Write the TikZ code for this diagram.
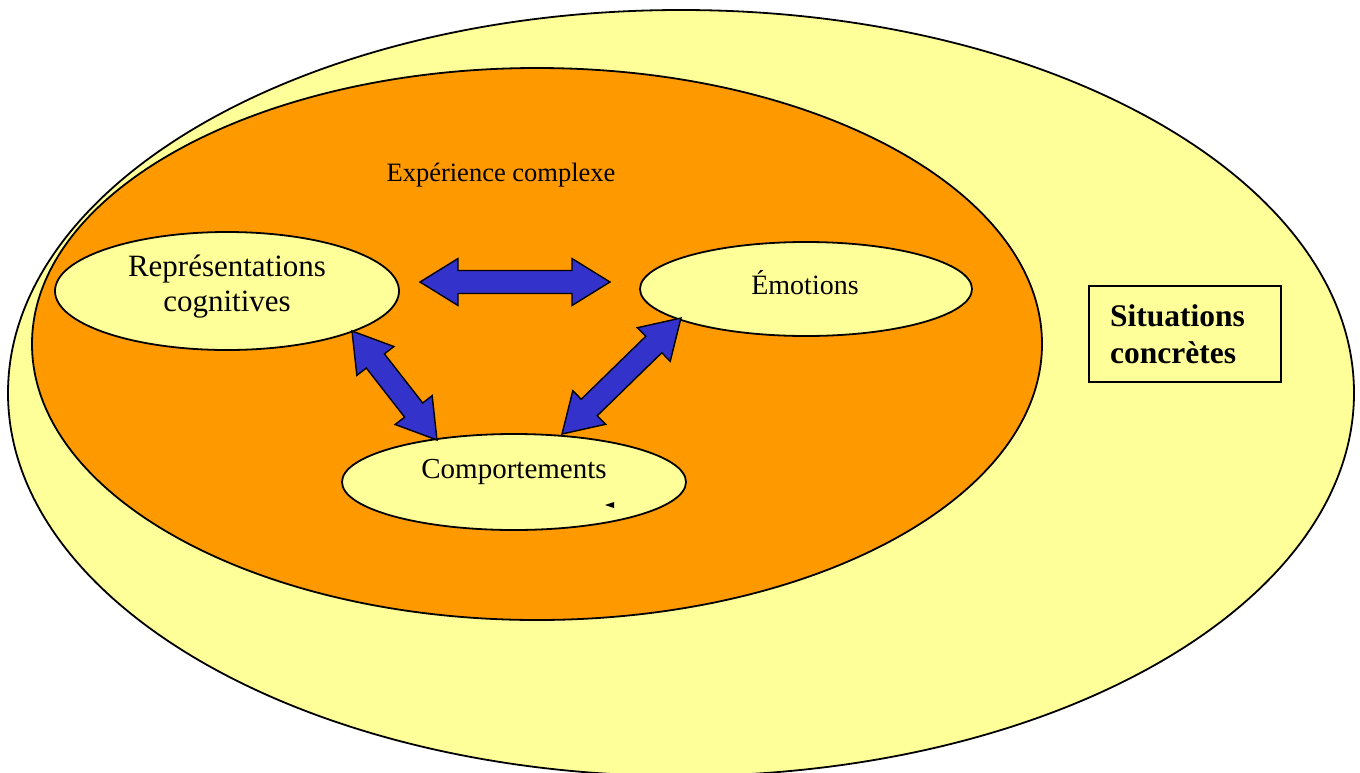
\documentclass[tikz,border=0pt]{standalone}
\usepackage{fontspec}
\setmainfont{Liberation Serif}
\usetikzlibrary{shapes.geometric,calc}
\definecolor{ylw}{HTML}{FFFF99}
\definecolor{org}{HTML}{FF9900}
\definecolor{arrowblue}{HTML}{3333CC}
\tikzset{
  ell/.style={ellipse, draw=black, line width=1.8pt, inner sep=0pt},
  lbl/.style={font=\fontsize{29}{33}\selectfont, align=center, inner sep=0pt},
  blk/.style={fill=arrowblue, draw=black, line width=1.4pt, line join=miter},
}
\def\hl{38pt}\def\hw{23.5pt}\def\sw{11.5pt}
\newcommand\blockarr[2]{%
 \draw[blk] let \p1=(#1), \p2=(#2), \n1={atan2(\y2-\y1,\x2-\x1)}, \n2={veclen(\x2-\x1,\y2-\y1)} in
 (\p1) -- ($(\p1)+(\n1:\hl)+(\n1+90:\hw)$) -- ($(\p1)+(\n1:\hl)+(\n1+90:\sw)$)
 -- ($(\p1)+(\n1:\n2-\hl)+(\n1+90:\sw)$) -- ($(\p1)+(\n1:\n2-\hl)+(\n1+90:\hw)$)
 -- (\p2) -- ($(\p1)+(\n1:\n2-\hl)+(\n1-90:\hw)$) -- ($(\p1)+(\n1:\n2-\hl)+(\n1-90:\sw)$)
 -- ($(\p1)+(\n1:\hl)+(\n1-90:\sw)$) -- ($(\p1)+(\n1:\hl)+(\n1-90:\hw)$) -- cycle;}
\begin{document}
\begin{tikzpicture}[x=1pt,y=-1pt]
\useasboundingbox (0,0) rectangle (1360,772);
\clip (0,0) rectangle (1360,772);
\node[ell, fill=ylw, minimum width=1346pt, minimum height=766pt] (outer) at (681,393) {};
\node[ell, fill=org, minimum width=1010pt, minimum height=552pt] (exp) at (537,344) {};
\node[font=\fontsize{26.5}{30}\selectfont, inner sep=0pt] (explbl) at (501,175) {Expérience complexe};
% inner ellipses
\node[ell, fill=ylw, minimum width=344pt, minimum height=118pt] (rep) at (227,291) {};
\node[lbl, font=\fontsize{31}{35}\selectfont] (replbl) at (227,287) {Représentations\\cognitives};
\node[ell, fill=ylw, minimum width=332pt, minimum height=94pt] (emo) at (806,289) {};
\node[lbl, font=\fontsize{28}{33}\selectfont] (emolbl) at (805,283) {Émotions};
\node[ell, fill=ylw, minimum width=344pt, minimum height=96pt] (com) at (514,482) {};
\node[lbl] (comlbl) at (514,472) {Comportements};
\fill (605,505) -- (614,502) -- (614,508) -- cycle;
% box
\node[draw=black, line width=1.6pt, fill=ylw, minimum width=192pt, minimum height=96pt, inner sep=0pt] (sit) at (1185,334) {};
\node[font=\fontsize{31.5}{37}\selectfont\bfseries, align=left, inner sep=0pt] (sitlbl) at (1177.5,334) {Situations\\concrètes};
% arrows
\coordinate (h1) at (420,282);
\coordinate (h2) at (610,282);
\coordinate (l1) at (352,331);
\coordinate (l2) at (437,440);
\coordinate (r1) at (681,318);
\coordinate (r2) at (562,434);
\blockarr{h1}{h2}
\blockarr{l1}{l2}
\blockarr{r1}{r2}
\end{tikzpicture}
\end{document}
